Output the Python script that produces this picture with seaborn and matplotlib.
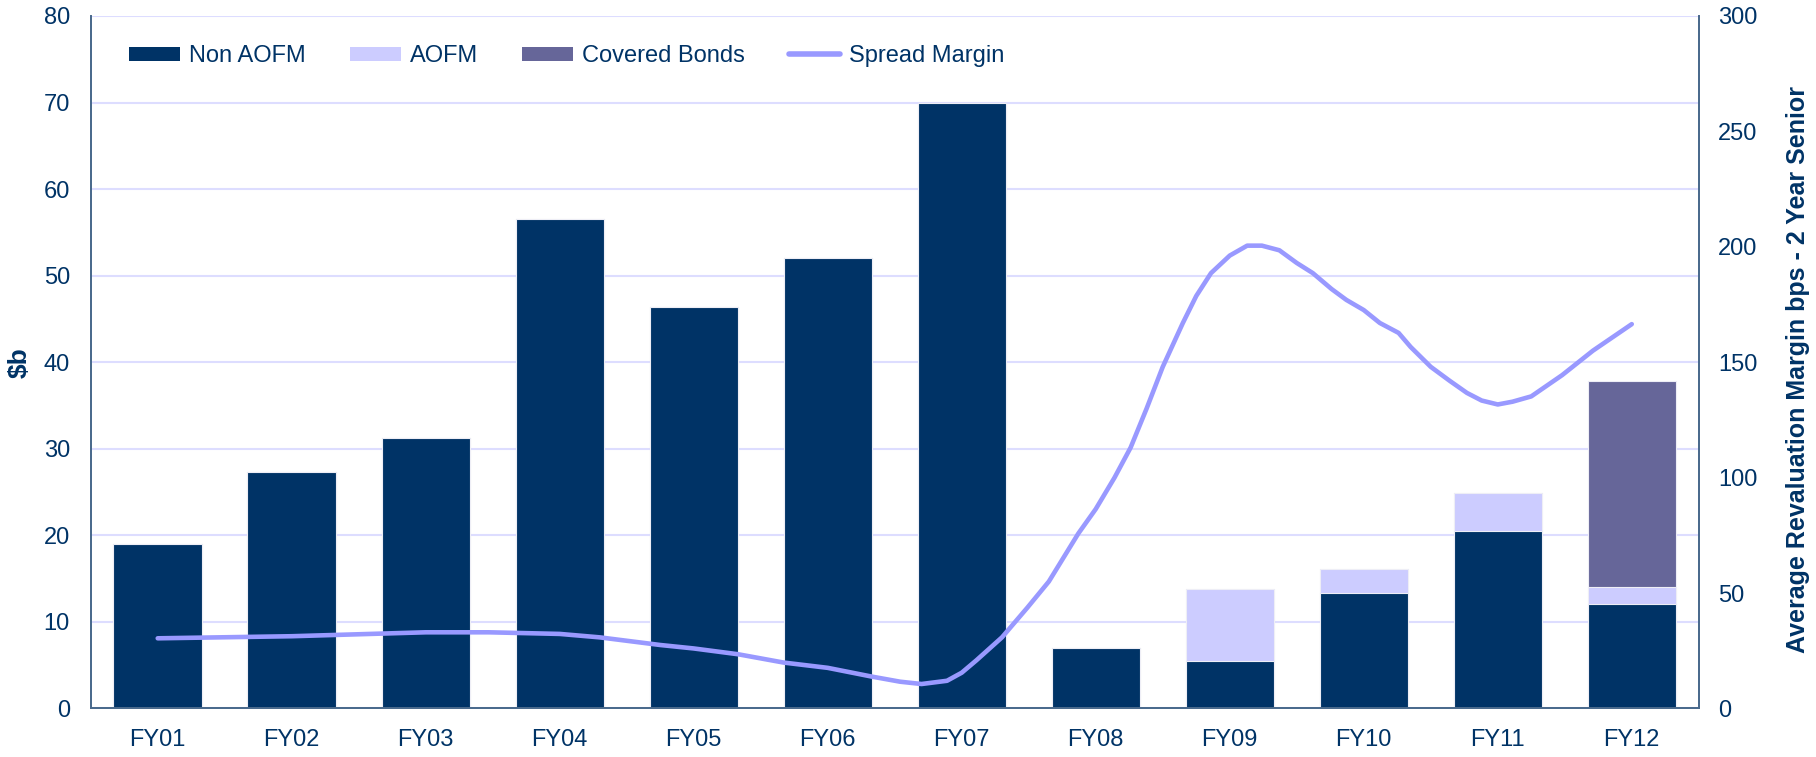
import matplotlib
matplotlib.use("Agg")
import matplotlib.pyplot as plt
import seaborn as sns
import numpy as np
from matplotlib.patches import Patch
from matplotlib.lines import Line2D

# ---- data ----
categories = ["FY01", "FY02", "FY03", "FY04", "FY05", "FY06",
              "FY07", "FY08", "FY09", "FY10", "FY11", "FY12"]
non_aofm = [19.0, 27.3, 31.3, 56.6, 46.4, 52.0, 70.0, 7.0, 5.5, 13.3, 20.5, 12.1]
aofm = [0, 0, 0, 0, 0, 0, 0, 0, 8.3, 2.8, 4.4, 1.9]
covered_bonds = [0, 0, 0, 0, 0, 0, 0, 0, 0, 0, 0, 23.8]

# spread margin (bps), x in category-index units (FY01 = 0)
spread_x = [0, 1, 2, 2.47, 3, 3.3, 3.75, 4, 4.33, 4.67, 5.0, 5.33, 5.54, 5.70,
            5.89, 6.0, 6.11, 6.30, 6.49, 6.65, 6.87, 7.0, 7.14, 7.26, 7.38,
            7.50, 7.65, 7.75, 7.86, 8.0, 8.13, 8.24, 8.37, 8.50, 8.62, 8.76,
            8.87, 9.0, 9.12, 9.26, 9.35, 9.50, 9.64, 9.77, 9.88, 10.0, 10.11,
            10.25, 10.48, 10.71, 11.0]
spread_bps = [30.4, 31.3, 33.0, 33.0, 32.3, 30.8, 27.5, 26.0, 23.5, 19.9, 17.6,
              13.8, 11.6, 10.6, 12.0, 15.5, 20.9, 30.8, 43.7, 55.0, 75.8, 86.4,
              100.0, 113.0, 130.0, 148.0, 167.0, 178.7, 188.6, 196.2, 200.5,
              200.5, 198.5, 193.0, 188.6, 181.7, 177.0, 172.6, 167.0, 162.7,
              156.6, 148.0, 142.0, 136.7, 133.4, 131.7, 132.9, 135.2, 144.4,
              155.0, 166.5]

left_ticks = list(range(0, 81, 10))
right_ticks = list(range(0, 301, 50))

# ---- style ----
sns.set_style("white")
plt.rcParams["font.family"] = ["Liberation Sans", "DejaVu Sans"]

NAVY = "#003366"
LAV = "#CCCCFF"
PURP = "#666699"
LINE = "#9999FF"
GRID = "#DDDDFF"
SPINE = "#4A6A8C"
TXT = "#003366"

fig = plt.figure(figsize=(18.16, 7.57), dpi=100)
ax = fig.add_axes([0.04995, 0.0641, 0.8855, 0.9148])

tot1 = np.array(non_aofm)
tot2 = tot1 + np.array(aofm)
tot3 = tot2 + np.array(covered_bonds)

for vals, col in [(tot3, PURP), (tot2, LAV), (tot1, NAVY)]:
    sns.barplot(x=categories, y=vals, color=col, saturation=1, width=0.66,
                edgecolor="#EEEEF6", linewidth=0.8, ax=ax)

ax.set_xlim(-0.5, 11.5)
ax.set_ylim(0, 80)
ax.set_yticks(left_ticks)
ax.set_axisbelow(True)
ax.yaxis.grid(True, color=GRID, linewidth=1.5)
ax.xaxis.grid(False)
ax.tick_params(axis="both", length=0, labelcolor=TXT)
ax.tick_params(axis="x", pad=15, labelsize=17)
ax.tick_params(axis="y", pad=15, labelsize=17)
ax.set_ylabel("$b", fontsize=19, fontweight="bold", color=TXT)
ax.yaxis.set_label_coords(-0.0365, 0.5)
ax.set_xlabel("")

ax2 = ax.twinx()
sns.lineplot(x=spread_x, y=spread_bps, color=LINE, linewidth=3.3, ax=ax2)
ax2.set_ylim(0, 300)
ax2.set_yticks(right_ticks)
ax2.tick_params(axis="y", length=0, labelsize=17, labelcolor=TXT, pad=14)
ax2.set_ylabel("Average Revaluation Margin bps - 2 Year Senior", fontsize=18,
               fontweight="bold", color=TXT)
ax2.yaxis.set_label_coords(1.0542, 0.49)
ax2.set_xlim(-0.5, 11.5)

for a in (ax, ax2):
    a.spines["top"].set_visible(False)
    for s in ("left", "bottom", "right"):
        a.spines[s].set_color(SPINE)
        a.spines[s].set_linewidth(1.3)

handles = [Patch(facecolor=NAVY, edgecolor="none"),
           Patch(facecolor=LAV, edgecolor="none"),
           Patch(facecolor=PURP, edgecolor="none"),
           Line2D([0], [0], color=LINE, linewidth=4)]
labels = ["Non AOFM", "AOFM", "Covered Bonds", "Spread Margin"]
leg = ax2.legend(handles, labels, ncol=4, frameon=False, loc="center left",
                 bbox_to_anchor=(0.0238, 0.942), fontsize=17,
                 handlelength=2.15, handleheight=0.54, handletextpad=0.38,
                 columnspacing=1.88, borderpad=0, borderaxespad=0)
for t in leg.get_texts():
    t.set_color(TXT)

fig.savefig("out.png", dpi=100)
